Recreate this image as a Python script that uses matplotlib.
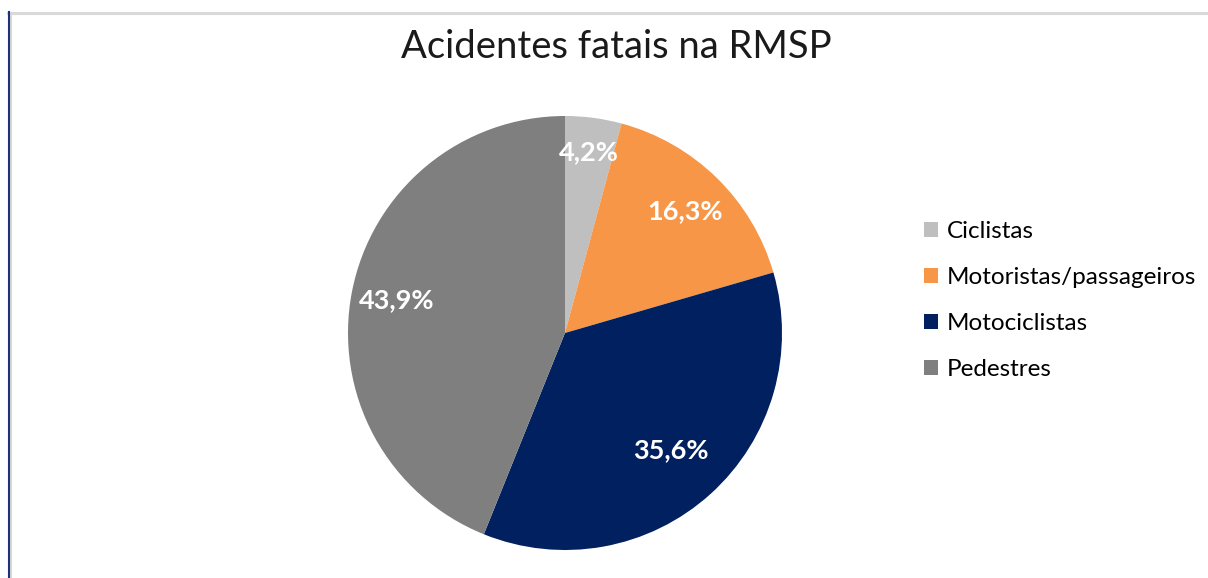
import matplotlib

matplotlib.use("Agg")
import matplotlib.pyplot as plt
import numpy as np
from matplotlib.lines import Line2D

plt.rcParams["font.family"] = ["Lato", "DejaVu Sans"]

labels = ["Ciclistas", "Motoristas/passageiros", "Motociclistas", "Pedestres"]
values = [4.2, 16.3, 35.6, 43.9]
colors = ["#bfbfbf", "#f79646", "#002060", "#7f7f7f"]

# distância radial de cada rótulo (como o Excel posiciona)
label_dist = [0.84, 0.79, 0.73, 0.79]

W, H = 1208, 578
fig = plt.figure(figsize=(W / 100, H / 100), dpi=100)
fig.patch.set_facecolor("white")

# moldura (borda cinza superior + borda azul à esquerda)
fig.add_artist(Line2D([8 / W, 1], [1 - 13 / H, 1 - 13 / H], color="#d9d9d9", linewidth=2.2))
fig.add_artist(Line2D([11 / W, 11 / W], [0, 1 - 14 / H], color="#d9d9d9", linewidth=1.5))
fig.add_artist(Line2D([8.5 / W, 8.5 / W], [0, 1 - 12 / H], color="#1f2f7a", linewidth=1.5))

cx, cy, r = 565, 333, 217
ax = fig.add_axes([(cx - r) / W, (H - cy - r) / H, 2 * r / W, 2 * r / H])
wedges, _, autotexts = ax.pie(
    values, colors=colors, startangle=90, counterclock=False,
    autopct=lambda p: f"{p:.1f}%".replace(".", ","), pctdistance=0.79,
    wedgeprops=dict(linewidth=0), radius=1,
)
for w, t, d in zip(wedges, autotexts, label_dist):
    ang = np.deg2rad((w.theta1 + w.theta2) / 2)
    t.set_position((d * np.cos(ang), d * np.sin(ang)))
    t.set_color("white")
    t.set_fontsize(19.5)
    t.set_fontweight("bold")
ax.set_xlim(-1, 1)
ax.set_ylim(-1, 1)
ax.set_aspect("equal")
ax.axis("off")

fig.text(616 / W, 1 - 47 / H, "Acidentes fatais na RMSP", ha="center", va="center",
         fontsize=27.5, color="#1a1a1a")

leg = fig.legend(wedges, labels, loc="upper left", bbox_to_anchor=(902 / W, 1 - 199 / H),
                 frameon=False, fontsize=17.5, handlelength=0.6, handleheight=0.6,
                 handletextpad=0.35, labelspacing=1.03)

fig.savefig("out.png", dpi=100, facecolor="white")
